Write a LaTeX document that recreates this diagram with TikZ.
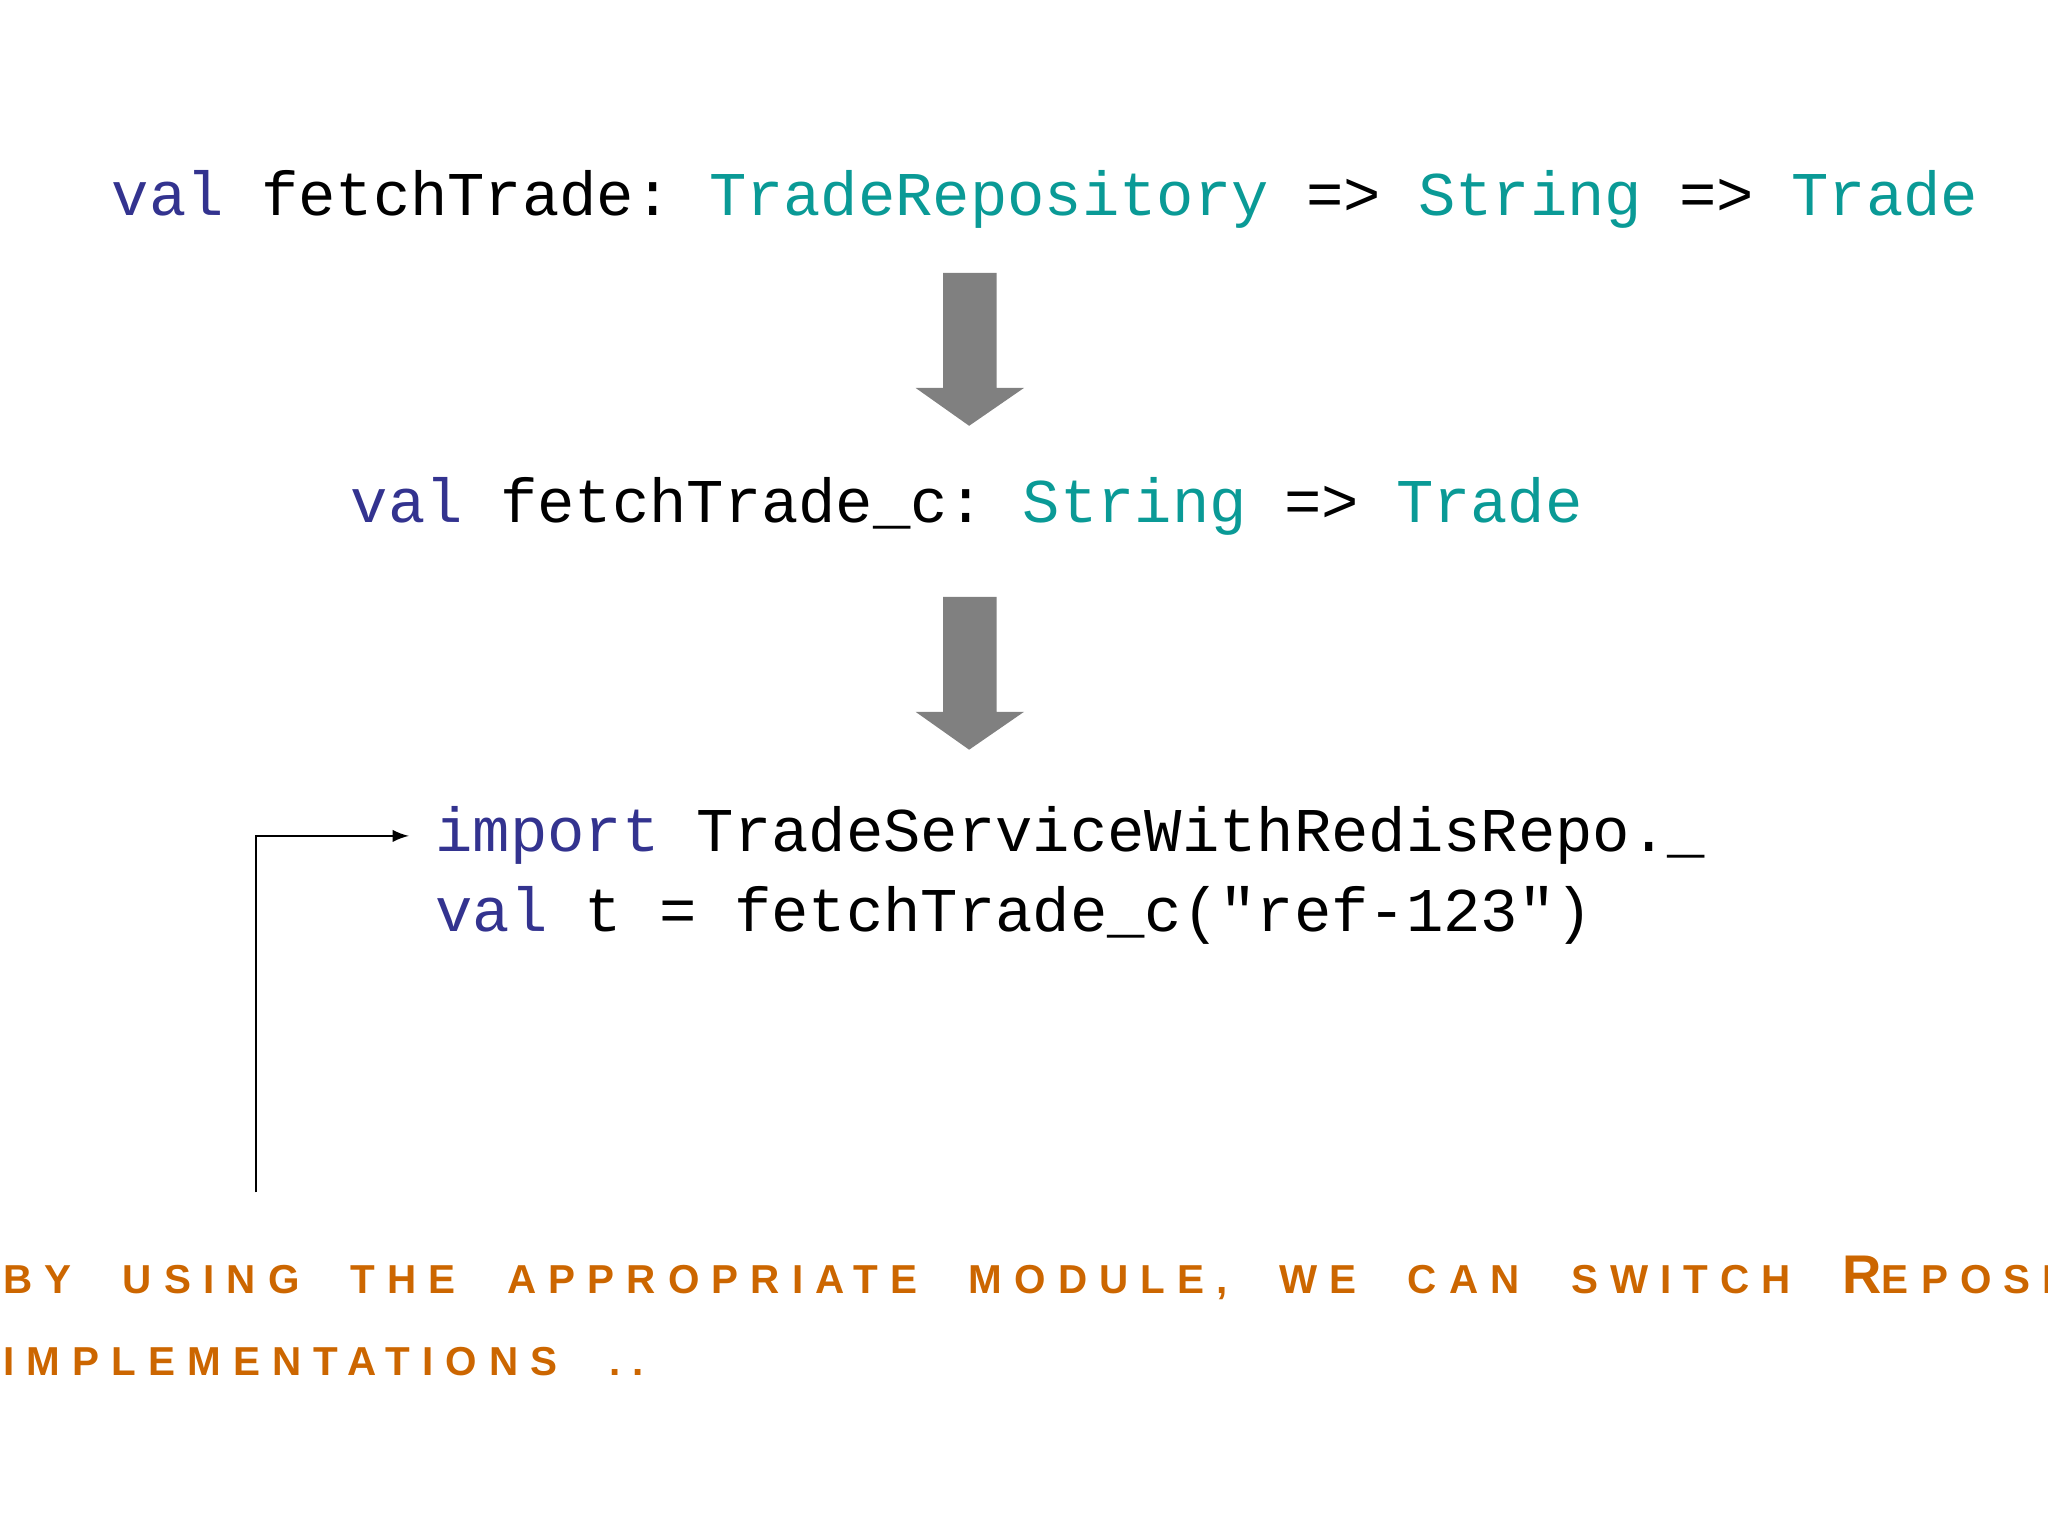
\documentclass[tikz,border=0pt]{standalone}
\usepackage{fontspec}
\setmonofont{Liberation Mono}
\newfontfamily\capsfont[LetterSpace=30,WordSpace=2.2]{Liberation Sans Bold}
\definecolor{kw}{HTML}{33338F}
\definecolor{ty}{HTML}{0A9A96}
\definecolor{org}{HTML}{CC6600}
\definecolor{arr}{HTML}{808080}
\begin{document}
\begin{tikzpicture}[x=0.01306cm,y=-0.01306cm,
  code/.style={anchor=base west,inner sep=0,font=\fontsize{17.7}{20}\ttfamily},
  captext/.style={anchor=base west,inner sep=0,text=org,font=\fontsize{11.5}{13}\capsfont},
  blk/.style={fill=arr,draw=none}]
\useasboundingbox (0,0) rectangle (1568,1176);
\clip (0,0) rectangle (1568,1176);
\node[code] (l1) at (85,165) {\textcolor{kw}{val} fetchTrade: \textcolor{ty}{TradeRepository} => \textcolor{ty}{String} => \textcolor{ty}{Trade}};
\node[code] (l2) at (268,400) {\textcolor{kw}{val} fetchTrade\_c: \textcolor{ty}{String} => \textcolor{ty}{Trade}};
\node[code] (l3) at (333,652) {\textcolor{kw}{import} TradeServiceWithRedisRepo.\_};
\node[code] (l4) at (333,713) {\textcolor{kw}{val} t = fetchTrade\_c("ref-123")};
\fill[blk] (722,209) -- (763,209) -- (763,297) -- (784,297) -- (742,326) -- (701,297) -- (722,297) -- cycle;
\fill[blk] (722,457) -- (763,457) -- (763,545) -- (784,545) -- (742,574) -- (701,545) -- (722,545) -- cycle;
\coordinate (s) at (196,913);
\coordinate (t) at (313,640);
\draw[-latex,line width=0.6pt] (s) |- (t);
\node[captext] (c1) at (2,990) {BY USING THE APPROPRIATE MODULE, WE CAN SWITCH {\fontsize{15.5}{16}\selectfont R}EPOSITORY};
\node[captext] (c2) at (2,1053) {IMPLEMENTATIONS ..};
\end{tikzpicture}
\end{document}
